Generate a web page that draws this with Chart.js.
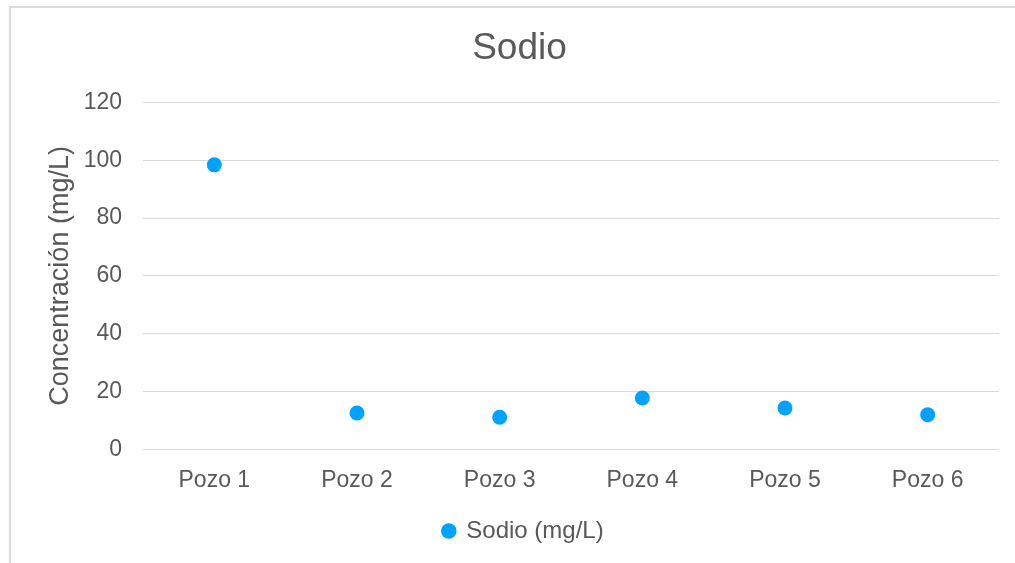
<!DOCTYPE html>
<html>
<head>
<meta charset="utf-8">
<script src="https://cdn.jsdelivr.net/npm/chart.js@4/dist/chart.umd.min.js"></script>
<style>
  html, body { margin: 0; padding: 0; background: #ffffff; overflow: hidden; }
  #frame {
    position: absolute; left: 9px; top: 6px; width: 1100px; height: 620px;
    border: 2px solid #dcdcdc; box-sizing: border-box;
  }
  #c { position: absolute; left: 0; top: 0; }
</style>
</head>
<body>
<div id="frame"></div>
<canvas id="c" width="1015" height="563"></canvas>
<script>
// Concentración de sodio por pozo
const pozos = ['Pozo 1', 'Pozo 2', 'Pozo 3', 'Pozo 4', 'Pozo 5', 'Pozo 6'];
const sodio = [98.4, 12.6, 11.1, 17.8, 14.3, 12.0];
const yTicks = [0, 20, 40, 60, 80, 100, 120];

const textColor = '#595959';
const gridColor = '#d9d9d9';
const pointColor = '#00A2FF';
const family = '"Liberation Sans", Arial, sans-serif';

// Nudges the title and legend boxes to the right of the plot centre
const boxShift = {
  id: 'boxShift',
  afterLayout(chart) {
    const lg = chart.legend;
    if (lg) { lg.left += 19; lg.right += 19; }
    const tb = chart.titleBlock;
    if (tb) { tb.left += 15; tb.right += 15; }
  }
};

new Chart(document.getElementById('c'), {
  type: 'line',
  data: {
    labels: pozos,
    datasets: [{
      label: 'Sodio (mg/L)',
      data: sodio,
      showLine: false,
      pointRadius: 7.5,
      pointHoverRadius: 7.5,
      pointBorderWidth: 0,
      pointBackgroundColor: pointColor,
      borderColor: pointColor,
      backgroundColor: pointColor
    }]
  },
  plugins: [boxShift],
  options: {
    responsive: false,
    animation: false,
    events: [],
    layout: { padding: { left: 10, right: 16, top: 0, bottom: 10 } },
    plugins: {
      title: {
        display: true,
        text: 'Sodio',
        color: textColor,
        font: { family, size: 37, weight: 'normal' },
        padding: { top: 27, bottom: 31 }
      },
      legend: {
        position: 'bottom',
        labels: {
          color: textColor,
          font: { family, size: 24 },
          usePointStyle: true,
          pointStyle: 'circle',
          boxWidth: 11,
          boxHeight: 11,
          padding: 8
        }
      },
      tooltip: { enabled: false }
    },
    scales: {
      x: {
        offset: true,
        grid: { display: false, drawTicks: false },
        border: { display: false },
        ticks: {
          color: textColor,
          font: { family, size: 23 },
          padding: 17,
          maxRotation: 0
        }
      },
      y: {
        min: 0,
        max: 120,
        afterBuildTicks: (scale) => { scale.ticks = yTicks.map(v => ({ value: v })); },
        afterFit: (scale) => { scale.width = 133; },
        grid: { color: gridColor, lineWidth: 1, drawTicks: false },
        border: { display: false },
        ticks: {
          color: textColor,
          font: { family, size: 23 },
          padding: 21
        },
        title: {
          display: true,
          text: 'Concentración (mg/L)',
          color: textColor,
          font: { family, size: 27 },
          padding: { top: 34, bottom: 0 }
        }
      }
    }
  }
});
</script>
</body>
</html>
